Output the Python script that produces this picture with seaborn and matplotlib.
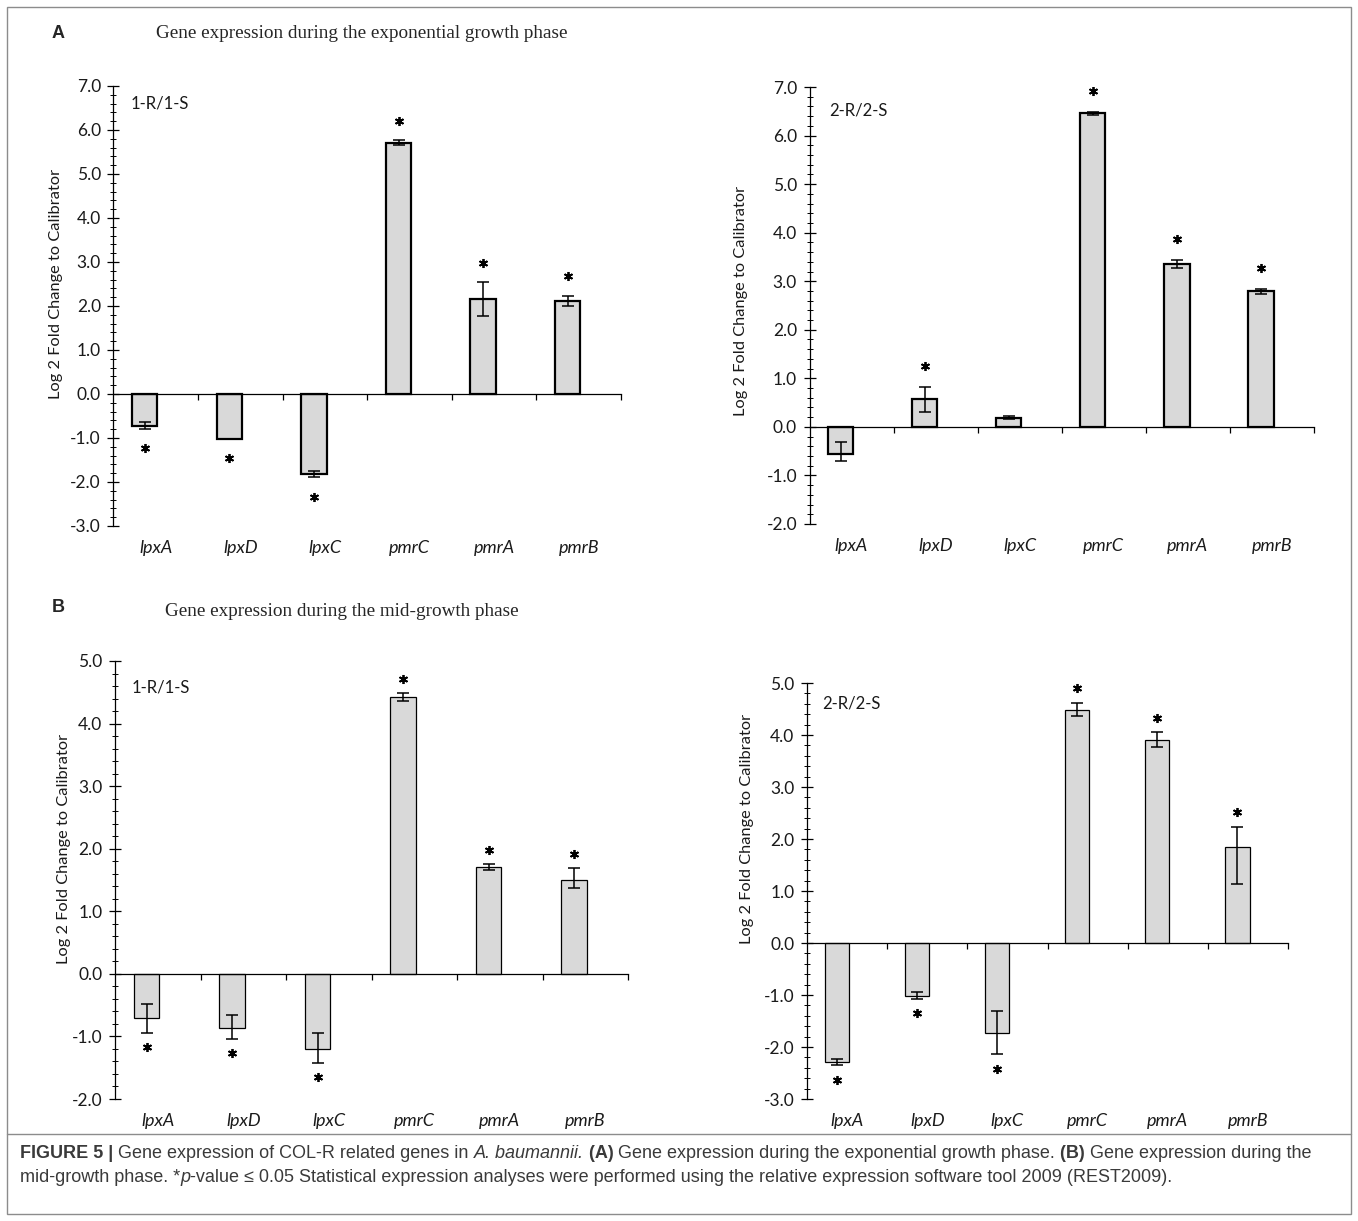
import numpy as np
import seaborn as sns
from matplotlib import pyplot as plt
from matplotlib.transforms import offset_copy
from matplotlib.ticker import MultipleLocator, FormatStrFormatter
from matplotlib.patches import Rectangle
from matplotlib.lines import Line2D


sns.set_theme(style='ticks')
plt.rcParams['font.family'] = ['Lato', 'DejaVu Sans']
plt.rcParams['axes.unicode_minus'] = False


genes = ['lpxA', 'lpxD', 'lpxC', 'pmrC', 'pmrA', 'pmrB']

# (A) exponential growth phase, 1-R/1-S and 2-R/2-S
exp1_values = [-0.72, -1.02, -1.82, 5.71, 2.17, 2.11]
exp1_err_lo = [0.07, 0.00, 0.07, 0.06, 0.40, 0.12]
exp1_err_hi = [0.08, 0.00, 0.07, 0.06, 0.37, 0.12]
exp1_signif = [True, True, True, True, True, True]

exp2_values = [-0.55, 0.58, 0.19, 6.46, 3.36, 2.79]
exp2_err_lo = [0.15, 0.27, 0.03, 0.03, 0.09, 0.06]
exp2_err_hi = [0.24, 0.24, 0.03, 0.03, 0.08, 0.06]
exp2_signif = [False, True, False, True, True, True]

# (B) mid-growth phase
mid1_values = [-0.70, -0.86, -1.20, 4.43, 1.71, 1.50]
mid1_err_lo = [0.25, 0.18, 0.23, 0.07, 0.05, 0.13]
mid1_err_hi = [0.22, 0.20, 0.25, 0.06, 0.05, 0.19]
mid1_signif = [True, True, True, True, True, True]

mid2_values = [-2.29, -1.01, -1.73, 4.49, 3.91, 1.84]
mid2_err_lo = [0.06, 0.06, 0.41, 0.13, 0.14, 0.71]
mid2_err_hi = [0.06, 0.06, 0.43, 0.13, 0.14, 0.40]
mid2_signif = [True, True, True, True, True, True]

W, H = 1358, 1221
fig = plt.figure(figsize=(W / 100, H / 100), dpi=100, facecolor='white')


def box(left, top, right, bottom):
    return [left / W, 1 - bottom / H, (right - left) / W, (bottom - top) / H]


def draw_panel(rect, values, err_lo, err_hi, signif, ylim, tag, edge, star_pt, ylab_x):
    ax = fig.add_axes(box(*rect))
    pos = np.arange(len(genes))
    bar_x = pos - 0.13

    sns.barplot(x=bar_x, y=values, native_scale=True, width=0.3, color='#d9d9d9',
                saturation=1, edgecolor='black', linewidth=edge, errorbar=None, ax=ax)
    ax.errorbar(bar_x, values, yerr=[err_lo, err_hi], fmt='none', ecolor='black',
                elinewidth=1.1, capsize=4, capthick=1.1, zorder=3)

    # Significance asterisks just beyond the end of each error bar.
    up = offset_copy(ax.transData, fig=fig, y=star_pt, units='points')
    down = offset_copy(ax.transData, fig=fig, y=-star_pt, units='points')
    for x, v, lo, hi, s in zip(bar_x, values, err_lo, err_hi, signif):
        if not s:
            continue
        if v >= 0:
            ax.plot(x, v + hi, marker=(6, 2, 0), ms=6.5, mew=1.3, color='black', transform=up)
        else:
            ax.plot(x, v - lo, marker=(6, 2, 0), ms=6.5, mew=1.3, color='black', transform=down)

    ax.set_xlim(-0.5, len(genes) - 0.5)
    ax.set_ylim(*ylim)
    ax.set_facecolor('white')
    for side in ['top', 'right']:
        ax.spines[side].set_visible(False)
    ax.spines['bottom'].set_position(('data', 0))
    for side in ['left', 'bottom']:
        ax.spines[side].set_color('black')
        ax.spines[side].set_linewidth(0.9)

    ax.set_xticks(pos + 0.5)
    ax.tick_params(axis='x', direction='out', length=4, width=0.9, color='black', labelbottom=False)
    ax.set_yticks(np.arange(ylim[0], ylim[1] + 0.01, 1.0))
    ax.yaxis.set_major_formatter(FormatStrFormatter('%.1f'))
    ax.yaxis.set_minor_locator(MultipleLocator(0.2))
    ax.tick_params(axis='y', which='major', direction='inout', length=8, width=0.9,
                   color='black', labelsize=12.5, pad=5, labelcolor='#1a1a1a')
    ax.tick_params(axis='y', which='minor', direction='inout', length=4, width=0.7, color='black')

    sec = ax.secondary_xaxis('bottom')
    sec.set_xticks(pos, labels=genes, fontstyle='italic', fontsize=13, color='#1a1a1a')
    sec.tick_params(length=0, pad=10)
    sec.spines['bottom'].set_visible(False)

    ax.set_ylabel('Log 2 Fold Change to Calibrator', fontsize=11.8, color='#1a1a1a')
    ax.yaxis.label.set_verticalalignment('center')
    ax.yaxis.set_label_coords(*ylab_x)

    ax.text(tag[1], tag[2], tag[0], transform=ax.transAxes, fontsize=12,
            ha='left', va='center', color='#1a1a1a')
    return ax


def ylab_coords(rect, x_px, y_frac):
    left, top, right, bottom = rect
    return ((x_px - left) / (right - left), y_frac)


rect_a1 = (113.5, 86, 621, 526)
rect_a2 = (809.5, 87, 1314, 524)
rect_b1 = (115, 661, 628, 1099)
rect_b2 = (807, 683, 1288, 1099)

draw_panel(rect_a1, exp1_values, exp1_err_lo, exp1_err_hi, exp1_signif, (-3, 7),
           ('1-R/1-S', 0.033, 0.96), 1.6, 14, ylab_coords(rect_a1, 56, 0.55))
draw_panel(rect_a2, exp2_values, exp2_err_lo, exp2_err_hi, exp2_signif, (-2, 7),
           ('2-R/2-S', 0.04, 0.947), 1.6, 15, ylab_coords(rect_a2, 741, 0.51))
draw_panel(rect_b1, mid1_values, mid1_err_lo, mid1_err_hi, mid1_signif, (-2, 5),
           ('1-R/1-S', 0.033, 0.94), 0.9, 10, ylab_coords(rect_b1, 64, 0.57))
draw_panel(rect_b2, mid2_values, mid2_err_lo, mid2_err_hi, mid2_signif, (-3, 5),
           ('2-R/2-S', 0.031, 0.95), 0.9, 10.5, ylab_coords(rect_b2, 747, 0.65))

# Panel letters and section titles.
fig.text(58 / W, 1 - 34 / H, 'A', fontsize=13, fontweight='bold',
         family=['Liberation Sans', 'DejaVu Sans'], ha='center', va='center')
fig.text(362 / W, 1 - 33 / H, 'Gene expression during the exponential growth phase',
         fontsize=13.8, family=['Liberation Serif', 'DejaVu Serif'], ha='center', va='center')
fig.text(58 / W, 1 - 608 / H, 'B', fontsize=13, fontweight='bold',
         family=['Liberation Sans', 'DejaVu Sans'], ha='center', va='center')
fig.text(342 / W, 1 - 611 / H, 'Gene expression during the mid-growth phase',
         fontsize=13.8, family=['Liberation Serif', 'DejaVu Serif'], ha='center', va='center')

# Frame and caption box.
fig.add_artist(Rectangle((7 / W, 1 - 1214 / H), (1351 - 7) / W, (1214 - 7) / H,
                         fill=False, edgecolor='#8c8c8c', linewidth=1,
                         transform=fig.transFigure))
fig.add_artist(Line2D([7 / W, 1351 / W], [1 - 1134 / H, 1 - 1134 / H],
                      color='#8c8c8c', linewidth=1, transform=fig.transFigure))

cap_family = ['Liberation Sans', 'DejaVu Sans']
cap_color = '#3a3a3a'
caption_line1 = [
    ('FIGURE 5 | ', 'bold', 'normal'),
    ('Gene expression of COL-R related genes in ', 'normal', 'normal'),
    ('A. baumannii. ', 'normal', 'italic'),
    ('(A) ', 'bold', 'normal'),
    ('Gene expression during the exponential growth phase. ', 'normal', 'normal'),
    ('(B) ', 'bold', 'normal'),
    ('Gene expression during the', 'normal', 'normal'),
]
caption_line2 = [
    ('mid-growth phase. *', 'normal', 'normal'),
    ('p', 'normal', 'italic'),
    ('-value \u2264 0.05 Statistical expression analyses were performed using the '
     'relative expression software tool 2009 (REST2009).', 'normal', 'normal'),
]

renderer = fig.canvas.get_renderer()


def advance(s, size, weight, style):
    t = fig.text(0, 0, '|' + s + '|', fontsize=size, fontweight=weight,
                 fontstyle=style, family=cap_family)
    w = t.get_window_extent(renderer).width
    t.set_text('||')
    w -= t.get_window_extent(renderer).width
    t.remove()
    return w


# Size the caption so that the first line fills the box like the original.
base = 12
line1_width = sum(advance(s, base, wt, st) for s, wt, st in caption_line1)
cap_size = base * 1290 / line1_width


def draw_caption(pieces, y_px):
    x = 20
    for s, wt, st in pieces:
        fig.text(x / W, 1 - y_px / H, s, fontsize=cap_size, fontweight=wt, fontstyle=st,
                 family=cap_family, color=cap_color, ha='left', va='center')
        x += advance(s, cap_size, wt, st)


draw_caption(caption_line1, 1154)
draw_caption(caption_line2, 1178)

fig.savefig('out.png', dpi=100, facecolor='white')
plt.close(fig)
